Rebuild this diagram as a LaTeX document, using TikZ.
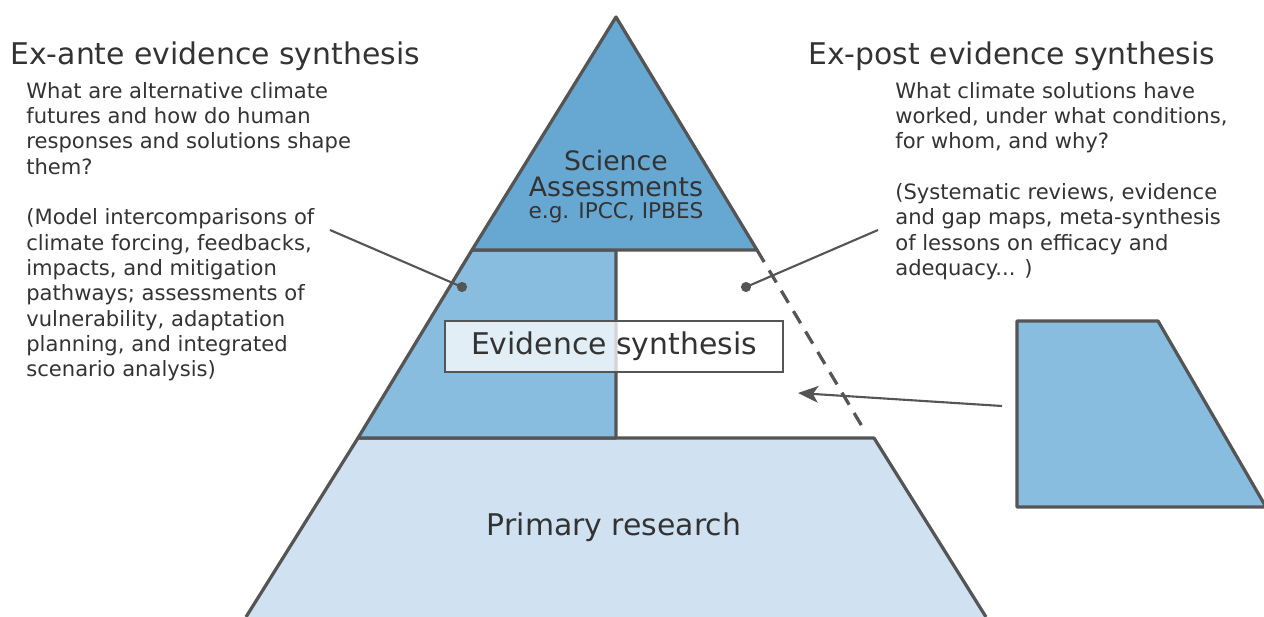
\documentclass[tikz,border=0pt]{standalone}
\usepackage{fontspec}
\setmainfont{DejaVu Sans}
\usetikzlibrary{arrows.meta}

\definecolor{edgegray}{HTML}{555555}
\definecolor{inkgray}{HTML}{333333}
\definecolor{topblue}{HTML}{67A8D3}
\definecolor{midblue}{HTML}{88BDDF}
\definecolor{baseblue}{HTML}{D0E2F1}

\tikzset{
  layer/.style={draw=edgegray, line width=1.85pt, line join=round},
  heading/.style={font=\fontsize{17}{20}\selectfont, text=inkgray, inner sep=0pt},
  body/.style={font=\fontsize{12}{14.4}\selectfont, text=inkgray, align=left, inner sep=0pt},
  callout/.style={draw=edgegray, line width=1.2pt},
  dot/.style={circle, fill=edgegray, inner sep=0pt, minimum size=5.8pt},
}

\begin{document}
\begin{tikzpicture}[x=0.02cm,y=-0.02cm]
\useasboundingbox (0,0) rectangle (1264,617);
\begin{scope}
% pyramid layers
\fill[baseblue] (358,438) -- (874,438) -- (986,617) -- (246,617) -- cycle;
\draw[layer] (246,617) -- (358,438) -- (874,438) -- (986,617);
\filldraw[layer, fill=midblue] (472,250) -- (616,250) -- (616,438) -- (358,438) -- cycle;
\filldraw[layer, fill=topblue] (616,17) -- (757,250) -- (472,250) -- cycle;
\draw[layer, dash pattern=on 8pt off 5.5pt] (757,250) -- (866,433);
% side panel
\filldraw[layer, fill=midblue] (1017,321) -- (1158,321) -- (1266,507) -- (1017,507) -- cycle;
\end{scope}
\begin{scope}
\node[draw=edgegray, line width=1.3pt, fill=white, fill opacity=0.75, text opacity=1,
  minimum width=6.76cm, minimum height=1.02cm, font=\fontsize{17}{20}\selectfont, text=inkgray]
  (synth) at (614,346.5) {Evidence synthesis};
\node[text=inkgray, align=center, inner sep=0pt, font=\fontsize{15.2}{14.7}\selectfont]
  (assess) at (616,187) {Science\\Assessments\\[-2pt]{\fontsize{12.3}{12}\selectfont e.g. IPCC, IPBES}};
\node[heading] (primary) at (614,527) {Primary research};
\end{scope}
\begin{scope}
\node[heading, anchor=base west] (exante) at (10,65) {Ex-ante evidence synthesis};
\node[body, anchor=north west] (exante-text) at (26,82) {What are alternative climate\\
futures and how do human\\
responses and solutions shape\\
them?\\[14.4pt]
(Model intercomparisons of\\
climate forcing, feedbacks,\\
impacts, and mitigation\\
pathways; assessments of\\
vulnerability, adaptation\\
planning, and integrated\\
scenario analysis)};
\node[heading, anchor=base west] (expost) at (808,65) {Ex-post evidence synthesis};
\node[body, anchor=north west] (expost-text) at (895,82) {What climate solutions have\\
worked, under what conditions,\\
for whom, and why?\\[14.4pt]
(Systematic reviews, evidence\\
and gap maps, meta-synthesis\\
of lessons on efficacy and\\
adequacy... )};
\end{scope}
\begin{scope}
\node[dot] (dot-ante) at (462,287) {};
\node[dot] (dot-post) at (746,287) {};
\coordinate (lead-ante) at (330,230);
\coordinate (lead-post) at (878,230);
\draw[callout] (lead-ante) -- (dot-ante.center);
\draw[callout] (lead-post) -- (dot-post.center);
\coordinate (panel-in) at (1002,406);
\coordinate (gap) at (798,393);
\draw[callout, -{Stealth[length=11.5pt, width=9.5pt, inset=3pt]}] (panel-in) -- (gap);
\end{scope}
\end{tikzpicture}
\end{document}
